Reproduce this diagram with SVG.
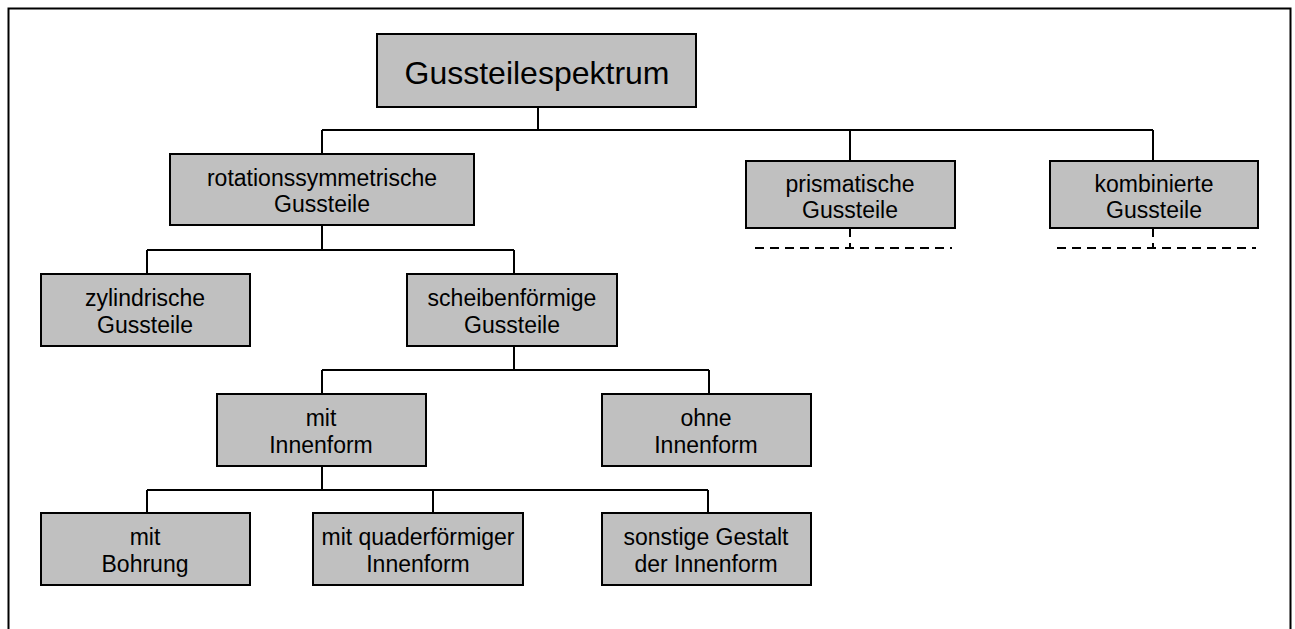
<svg xmlns="http://www.w3.org/2000/svg" width="1295" height="629" viewBox="0 0 1295 629">
  <style>
    .box { fill: #c0c0c0; stroke: #000; stroke-width: 2; }
    .lbl { font-family: "Liberation Sans", Arial, sans-serif; font-size: 23px; fill: #000; text-anchor: middle; }
    .title { font-family: "Liberation Sans", Arial, sans-serif; font-size: 32px; fill: #000; text-anchor: middle; }
    .wire { fill: none; stroke: #000; stroke-width: 2; }
    .dash { fill: none; stroke: #000; stroke-width: 2; stroke-dasharray: 9 6; }
  </style>
  <rect width="1295" height="629" fill="#fff"/>
  <!-- outer frame, open at the bottom -->
  <path d="M8.5 640 V8.5 H1290.5 V640" fill="none" stroke="#000" stroke-width="2"/>

  <g id="connectors">
    <path class="wire" d="M538 107 V130 M322 130 H1153 M322 130 V154 M850 130 V161 M1153 130 V161"/>
    <path class="wire" d="M322 225 V250 M147 250 H514 M147 250 V274 M514 250 V274"/>
    <path class="wire" d="M514 346 V370 M322 370 H709 M322 370 V394 M709 370 V394"/>
    <path class="wire" d="M322 466 V490 M147 490 H708 M147 490 V513 M433 490 V513 M708 490 V513"/>
    <path class="dash" d="M850 228 V248 M755 248 H952"/>
    <path class="dash" d="M1153 228 V248 M1057 248 H1256"/>
  </g>

  <g id="root">
    <rect class="box" x="377" y="34" width="319" height="73"/>
    <text class="title" x="537" y="84">Gussteilespektrum</text>
  </g>
  <g id="rotationssymmetrisch">
    <rect class="box" x="170" y="154" width="304" height="71"/>
    <text class="lbl" x="322" y="186">rotationssymmetrische</text>
    <text class="lbl" x="322" y="212">Gussteile</text>
  </g>
  <g id="prismatisch">
    <rect class="box" x="746" y="161" width="209" height="67"/>
    <text class="lbl" x="850" y="192">prismatische</text>
    <text class="lbl" x="850" y="218">Gussteile</text>
  </g>
  <g id="kombiniert">
    <rect class="box" x="1050" y="161" width="208" height="67"/>
    <text class="lbl" x="1154" y="192">kombinierte</text>
    <text class="lbl" x="1154" y="218">Gussteile</text>
  </g>
  <g id="zylindrisch">
    <rect class="box" x="41" y="274" width="209" height="72"/>
    <text class="lbl" x="145" y="306">zylindrische</text>
    <text class="lbl" x="145" y="333">Gussteile</text>
  </g>
  <g id="scheibenfoermig">
    <rect class="box" x="407" y="274" width="210" height="72"/>
    <text class="lbl" x="512" y="306">scheibenförmige</text>
    <text class="lbl" x="512" y="333">Gussteile</text>
  </g>
  <g id="mit-innenform">
    <rect class="box" x="217" y="394" width="209" height="72"/>
    <text class="lbl" x="321" y="426">mit</text>
    <text class="lbl" x="321" y="453">Innenform</text>
  </g>
  <g id="ohne-innenform">
    <rect class="box" x="602" y="394" width="209" height="72"/>
    <text class="lbl" x="706" y="426">ohne</text>
    <text class="lbl" x="706" y="453">Innenform</text>
  </g>
  <g id="mit-bohrung">
    <rect class="box" x="41" y="513" width="209" height="72"/>
    <text class="lbl" x="145" y="545">mit</text>
    <text class="lbl" x="145" y="572">Bohrung</text>
  </g>
  <g id="quaderfoermig">
    <rect class="box" x="313" y="513" width="210" height="72"/>
    <text class="lbl" x="418" y="545">mit quaderförmiger</text>
    <text class="lbl" x="418" y="572">Innenform</text>
  </g>
  <g id="sonstige">
    <rect class="box" x="602" y="513" width="209" height="72"/>
    <text class="lbl" x="706" y="545">sonstige Gestalt</text>
    <text class="lbl" x="706" y="572">der Innenform</text>
  </g>
</svg>
